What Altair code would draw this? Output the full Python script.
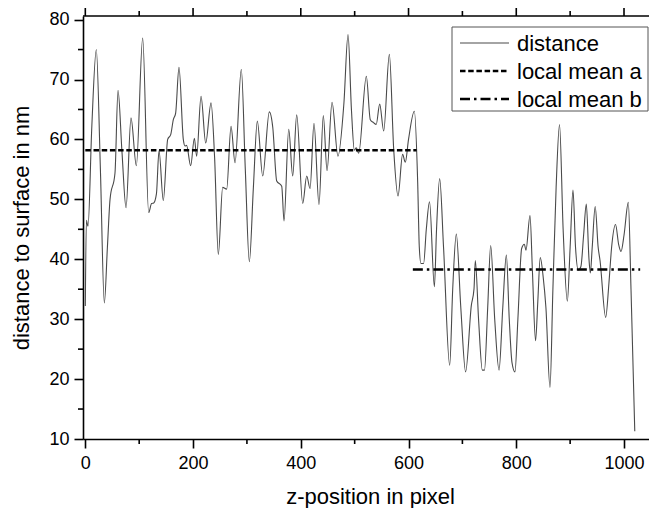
import altair as alt
import pandas as pd

# ---- data ----
pos = [0, 2, 5, 12, 20.4, 28, 35.3, 41, 45.9, 55.1, 60.7, 68, 75.6, 84.8, 94.7, 106.5,
       117.6, 123, 127, 132, 136.8, 144.8, 152.9, 158.5, 163.4, 167.7, 173.9, 181.9,
       185, 188, 195.6, 202.4, 206.7, 214.8, 223.5, 233.4, 240, 246.9, 255, 262.4,
       270.5, 277.9, 289.6, 297, 304.5, 312, 319.3, 329.3, 341.6, 348, 355.3, 364.6,
       368.9, 377.6, 385, 392.4, 403.6, 411, 417.2, 424.5, 433.8, 441.8, 448.7, 458,
       469, 480, 487.7, 494, 499.4, 503, 507.5, 521.7, 529, 535, 540, 546.5, 553.9,
       564.4, 572.5, 580.5, 589, 594, 600, 610.8, 617, 620, 623, 628, 633, 639, 648,
       652, 657.8, 665, 676.4, 682, 688.7, 697, 706, 716.6, 721.6, 724, 730, 737, 741,
       747, 752.5, 760, 768, 775, 781.6, 787, 792, 797.6, 803, 810, 815, 818, 825.5,
       830, 835.8, 840, 844.5, 850, 855, 862.6, 868, 874, 880.3, 887, 894.8, 900,
       905.3, 910, 915, 920, 925, 930, 935, 937.5, 941, 946.5, 952, 955.5, 966, 972,
       977, 984.3, 990, 994.5, 1000, 1008, 1013, 1020]
dist = [32.2, 46.5, 45.5, 62, 75, 55, 32.7, 42, 50, 54.4, 68.2, 58, 48.6, 63.6, 55.6, 76.9,
        47.8, 49.3, 49.4, 50.9, 58.1, 49.8, 60.0, 60.8, 63.3, 64.4, 72.05, 60,
        58.9, 59, 55.6, 60.2, 57.2, 67.2, 59.4, 66.1, 57, 40.8, 52, 51.7,
        62.2, 56.1, 71.7, 55, 39.6, 52, 63.05, 53.9, 64.6, 62, 53.05, 52.2,
        46.4, 61.7, 53.9, 64.1, 49.3, 53.9, 51.8, 62.7, 49.1, 64, 54.8, 66.2,
        57.2, 66, 77.5, 65, 58.2, 58.6, 57.7, 70.55, 63.3, 62.8, 62.5, 65.9, 61.4,
        74.2, 58.3, 50.55, 57.5, 56.2, 60, 64.7, 52.8, 42, 39.3, 39.3, 45, 49.6, 35.4,
        45, 53.45, 42, 22.3, 35, 44.2, 32, 21.2, 32.3, 35.1, 39.8, 30, 21.5, 21.5,
        32, 42.3, 30, 21.5, 32, 40.7, 30, 22.8, 21.2, 30, 41.8, 42.5, 41.5, 47.3,
        38, 26.4, 33, 40.3, 37, 32, 18.6, 35, 52, 62.5, 45, 33, 42,
        51.55, 42, 38.2, 38.8, 44, 49.2, 40, 37.7, 42, 48.8, 42, 39.8, 30.3, 36,
        42, 45.8, 42.5, 41.3, 44, 49.5, 35, 11.3]

mean_a_x = [0, 615]
mean_a_y = [58.2, 58.2]
mean_b_x = [608, 1030]
mean_b_y = [38.3, 38.3]

x_major = [0, 200, 400, 600, 800, 1000]
x_minor = [100, 300, 500, 700, 900]
y_major = [10, 20, 30, 40, 50, 60, 70, 80]
y_minor = [15, 25, 35, 45, 55, 65, 75]

legend_labels = ["distance", "local mean a", "local mean b"]

# ---- styling ----
FONT = "Liberation Sans"
W, H = 566, 423
AXW = 1.6
xs = alt.Scale(domain=[-4.3, 1046.4], nice=False, zero=False)
ys = alt.Scale(domain=[10, 80.6], nice=False, zero=False)

df = pd.DataFrame({"pos": pos, "dist": dist})
dfa = pd.DataFrame({"x": mean_a_x, "y": mean_a_y})
dfb = pd.DataFrame({"x": mean_b_x, "y": mean_b_y})
one = pd.DataFrame({"k": [0]})

x_axis = alt.Axis(
    values=x_major, format="d", grid=False, labelFlush=False,
    labelFont=FONT, labelFontSize=18, labelColor="black", labelPadding=6,
    tickSize=9, tickWidth=AXW, tickColor="black",
    domainColor="black", domainWidth=AXW,
    title="z-position in pixel", titleFont=FONT, titleFontSize=22,
    titleFontWeight="normal", titleColor="black",
    titleX=287, titleY=64, titleAlign="center", titleBaseline="alphabetic")
y_axis = alt.Axis(
    values=y_major, format="d", grid=False, labelFlush=False,
    labelFont=FONT, labelFontSize=18, labelColor="black", labelPadding=5,
    tickSize=9, tickWidth=AXW, tickColor="black",
    domainColor="black", domainWidth=AXW,
    title="distance to surface in nm", titleFont=FONT, titleFontSize=22,
    titleFontWeight="normal", titleColor="black", titleAngle=270,
    titleX=-55, titleY=H / 2, titleAlign="center", titleBaseline="alphabetic")


def X(field):
    # same axis definition on every layer so the shared axis merges cleanly
    return alt.X(field, scale=xs, axis=x_axis)


def Y(field):
    return alt.Y(field, scale=ys, axis=y_axis)


curve = alt.Chart(df).mark_line(color="#4a4a4a", strokeWidth=1.1, interpolate="monotone").encode(
    x=X("pos:Q"), y=Y("dist:Q"))

line_a = alt.Chart(dfa).mark_line(color="black", strokeWidth=2.5, strokeDash=[5.5, 2.7]).encode(
    x=X("x:Q"), y=Y("y:Q"))
line_b = alt.Chart(dfb).mark_line(color="black", strokeWidth=2.5, strokeDash=[10, 4, 2.5, 4]).encode(
    x=X("x:Q"), y=Y("y:Q"))

# frame top and minor tick marks
top = alt.Chart(one).mark_rule(color="black", strokeWidth=AXW).encode(
    x=alt.value(0), x2=alt.value(W), y=alt.value(0))


def xticks(vals, y0, y1):
    return alt.Chart(pd.DataFrame({"t": vals})).mark_rule(color="black", strokeWidth=AXW).encode(
        x=X("t:Q"), y=alt.value(y0), y2=alt.value(y1))


def yticks(vals, x0, x1):
    return alt.Chart(pd.DataFrame({"t": vals})).mark_rule(color="black", strokeWidth=AXW).encode(
        y=Y("t:Q"), x=alt.value(x0), x2=alt.value(x1))


ticks = [
    xticks(x_major, 0, -9), xticks(x_minor, 0, -5),
    xticks(x_minor, H, H + 5), yticks(y_minor, 0, -5),
]

# legend
LX0, LX1, LY0, LY1 = 369, 565, 11, 95
box = alt.Chart(one).mark_rect(fill="white", stroke="#555555", strokeWidth=1).encode(
    x=alt.value(LX0), x2=alt.value(LX1), y=alt.value(LY0), y2=alt.value(LY1))
leg_styles = [
    dict(color="#4a4a4a", strokeWidth=1.1),
    dict(color="black", strokeWidth=2.5, strokeDash=[5.5, 2.7]),
    dict(color="black", strokeWidth=2.5, strokeDash=[10, 4, 2.5, 4]),
]
leg_layers = [box]
for i, lab in enumerate(legend_labels):
    yy = 27 + 28 * i
    leg_layers.append(alt.Chart(one).mark_rule(**leg_styles[i]).encode(
        x=alt.value(377), x2=alt.value(426), y=alt.value(yy)))
    leg_layers.append(alt.Chart(one).mark_text(
        align="left", baseline="alphabetic", font=FONT, fontSize=22, color="black").encode(
        x=alt.value(434), y=alt.value(yy + 7.5), text=alt.value(lab)))

chart = alt.layer(curve, line_a, line_b, top, *ticks, *leg_layers).properties(
    width=W, height=H,
    autosize=alt.AutoSizeParams(type="none"),
    padding={"left": 75, "top": 8, "right": 0, "bottom": 69},
).configure_view(strokeWidth=0)

chart.save("out.html", embed_options={"renderer": "svg", "actions": False})
